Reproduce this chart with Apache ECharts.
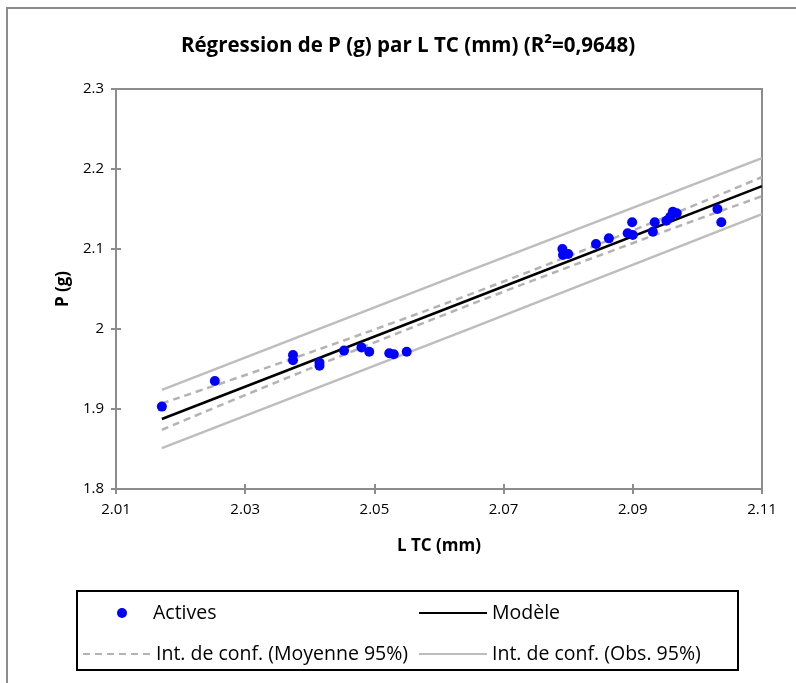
<!DOCTYPE html>
<html>
<head>
<meta charset="utf-8">
<script src="https://cdn.jsdelivr.net/npm/echarts@6/dist/echarts.min.js"></script>
<style>
  html, body { margin: 0; padding: 0; background: #fff; }
  #chart { width: 796px; height: 683px; }
</style>
</head>
<body>
<div id="chart"></div>
<script>
// observations (L TC, P)
const obsX = [2.0171, 2.0253, 2.0374, 2.0374, 2.0415, 2.0415, 2.0453, 2.0480, 2.0492, 2.0523,
  2.0530, 2.0550, 2.0791, 2.0792, 2.0800, 2.0843, 2.0863, 2.0892, 2.0900, 2.0899,
  2.0931, 2.0934, 2.0952, 2.0958, 2.0962, 2.0968, 2.1031, 2.1037];
const obsY = [1.903, 1.935, 1.9675, 1.961, 1.958, 1.954, 1.973, 1.977, 1.9716, 1.9696,
  1.9684, 1.9716, 2.100, 2.0925, 2.0938, 2.1063, 2.1133, 2.1196, 2.1175, 2.1334,
  2.1216, 2.1334, 2.1354, 2.1404, 2.1466, 2.1446, 2.150, 2.1334];

// regression line and bands, read at a few x positions
const lineX = [2.0171, 2.065, 2.11];
const modelY = [1.8875, 2.0375, 2.1785];
const meanUpY = [1.907, 2.044, 2.190];
const meanLowY = [1.874, 2.031, 2.166];
const predUpY = [1.924, 2.074, 2.2135];
const predLowY = [1.851, 2.001, 2.1435];

const xTicks = { min: 2.01, max: 2.11, interval: 0.02 };
const yTicks = { min: 1.8, max: 2.3, interval: 0.1 };

const zip = (xs, ys) => xs.map((x, i) => [x, ys[i]]);

const font = '"Open Sans", "Liberation Sans", sans-serif';
const gray = '#8c8c8c';

const chart = echarts.init(document.getElementById('chart'));

const legendBase = {
  orient: 'horizontal',
  itemWidth: 68,
  itemHeight: 10,
  itemStyle: { opacity: 0 },
  textStyle: { fontFamily: font, fontSize: 19.5, color: '#000' },
  selectedMode: false
};

chart.setOption({
  animation: false,
  textStyle: { fontFamily: font },
  title: {
    text: 'Régression de P (g) par L TC (mm) (R²=0,9648)',
    left: 403,
    textAlign: 'center',
    top: 31,
    textStyle: { fontFamily: font, fontSize: 20.5, fontWeight: 'bold', color: '#000' }
  },
  grid: {
    left: 116, top: 89, right: 34, bottom: 194,
    show: true, borderColor: gray, borderWidth: 2
  },
  xAxis: [
    {
      type: 'value', min: xTicks.min, max: xTicks.max, interval: xTicks.interval,
      name: 'L TC (mm)', nameLocation: 'middle', nameGap: 49,
      nameTextStyle: { fontFamily: font, fontSize: 17, fontWeight: 'bold', color: '#000' },
      axisLine: { lineStyle: { color: gray, width: 2 } },
      axisTick: { inside: false, length: 5, lineStyle: { color: gray, width: 2 } },
      axisLabel: { margin: 13, fontSize: 15, color: '#000', formatter: v => v.toFixed(2) },
      splitLine: { show: false }
    },
    {
      type: 'value', min: xTicks.min, max: xTicks.max, interval: xTicks.interval,
      position: 'bottom',
      axisLine: { show: false },
      axisTick: { inside: true, length: 5, lineStyle: { color: gray, width: 2 } },
      axisLabel: { show: false },
      splitLine: { show: false }
    }
  ],
  yAxis: [
    {
      type: 'value', min: yTicks.min, max: yTicks.max, interval: yTicks.interval,
      name: 'P (g)', nameLocation: 'middle', nameGap: 40, nameRotate: 90,
      nameTextStyle: { fontFamily: font, fontSize: 17, fontWeight: 'bold', color: '#000' },
      axisLine: { show: true, lineStyle: { color: gray, width: 2 } },
      axisTick: { show: true, inside: false, length: 5, lineStyle: { color: gray, width: 2 } },
      axisLabel: { margin: 12, fontSize: 15, color: '#000', formatter: v => String(+v.toFixed(1)) },
      splitLine: { show: false }
    },
    {
      type: 'value', min: yTicks.min, max: yTicks.max, interval: yTicks.interval,
      position: 'left',
      axisLine: { show: false },
      axisTick: { show: true, inside: true, length: 5, lineStyle: { color: gray, width: 2 } },
      axisLabel: { show: false },
      splitLine: { show: false }
    }
  ],
  legend: [
    Object.assign({}, legendBase, {
      left: 112, top: 598, itemWidth: 10, itemStyle: { opacity: 1 },
      textStyle: { fontFamily: font, fontSize: 19.5, color: '#000', padding: [0, 0, 0, 21] },
      data: [{ name: 'Actives', icon: 'circle' }]
    }),
    Object.assign({}, legendBase, { left: 413, top: 598, data: ['Modèle'] }),
    Object.assign({}, legendBase, { left: 77, top: 639, data: ['Int. de conf. (Moyenne 95%)'] }),
    Object.assign({}, legendBase, { left: 413, top: 639, data: ['Int. de conf. (Obs. 95%)'] })
  ],
  graphic: [
    {
      type: 'polyline',
      shape: { points: [[7, 683], [7, 8], [796, 8]] },
      style: { stroke: gray, lineWidth: 2, fill: null },
      silent: true
    },
    {
      type: 'rect',
      shape: { x: 77, y: 591, width: 661, height: 79 },
      style: { stroke: '#000', lineWidth: 2, fill: null },
      silent: true
    }
  ],
  series: [
    {
      name: 'Int. de conf. (Obs. 95%)', type: 'line', symbol: 'none',
      lineStyle: { color: '#bdbdbd', width: 2.5 }, itemStyle: { color: '#bdbdbd' },
      data: zip(lineX, predUpY), z: 1
    },
    {
      name: 'Int. de conf. (Obs. 95%)', type: 'line', symbol: 'none',
      lineStyle: { color: '#bdbdbd', width: 2.5 }, itemStyle: { color: '#bdbdbd' },
      data: zip(lineX, predLowY), z: 1
    },
    {
      name: 'Int. de conf. (Moyenne 95%)', type: 'line', symbol: 'none', smooth: true,
      lineStyle: { color: '#b3b3b3', width: 2.5, type: [7, 5] }, itemStyle: { color: '#b3b3b3' },
      data: zip(lineX, meanUpY), z: 2
    },
    {
      name: 'Int. de conf. (Moyenne 95%)', type: 'line', symbol: 'none', smooth: true,
      lineStyle: { color: '#b3b3b3', width: 2.5, type: [7, 5] }, itemStyle: { color: '#b3b3b3' },
      data: zip(lineX, meanLowY), z: 2
    },
    {
      name: 'Modèle', type: 'line', symbol: 'none',
      lineStyle: { color: '#000', width: 2.5 }, itemStyle: { color: '#000' },
      data: zip(lineX, modelY), z: 3
    },
    {
      name: 'Actives', type: 'scatter', symbol: 'circle', symbolSize: 10,
      itemStyle: { color: '#0000ff', opacity: 1 },
      data: zip(obsX, obsY), z: 4
    }
  ]
});
</script>
</body>
</html>
